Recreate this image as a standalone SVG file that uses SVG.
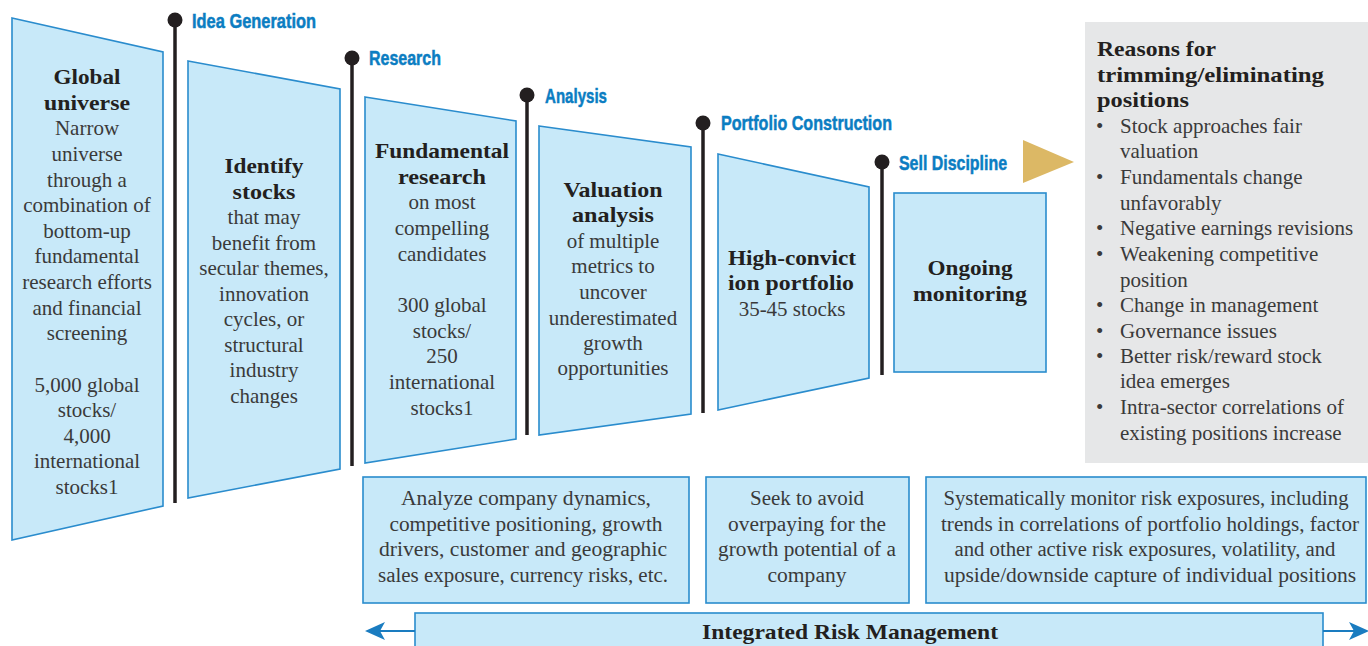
<svg xmlns="http://www.w3.org/2000/svg" width="1368" height="646" viewBox="0 0 1368 646">
<style>
.box{fill:#c8e9f9;stroke:#2a8ccd;stroke-width:1.6}
.t{font-family:"Liberation Serif","Times New Roman",serif;font-size:21px;fill:#3a3a3a;text-anchor:middle}
.b{font-family:"Liberation Serif","Times New Roman",serif;font-size:21px;font-weight:bold;fill:#231f20;text-anchor:middle}
.bl{font-family:"Liberation Serif","Times New Roman",serif;font-size:21px;font-weight:bold;fill:#231f20}
.l{font-family:"Liberation Serif","Times New Roman",serif;font-size:21px;fill:#3a3a3a}
.c{font-family:"Liberation Serif","Times New Roman",serif;font-size:20px;fill:#3a3a3a;text-anchor:middle}
.lab{font-family:"Liberation Sans",Arial,sans-serif;font-size:21px;font-weight:bold;fill:#0b7dc2;stroke:#0b7dc2;stroke-width:0.5}
.stem{stroke:#231f20;stroke-width:3.5}
.dot{fill:#231f20}
.arr{stroke:#1a7cc0;stroke-width:2.2;fill:none}
.head{fill:#1a7cc0}
</style>
<rect width="1368" height="646" fill="#ffffff"/>

<g id="stage-idea-generation">
<line class="stem" x1="175" y1="20" x2="175" y2="503"/>
<circle class="dot" cx="175" cy="20" r="7.5"/>
<text class="lab" x="192" y="28" textLength="124" lengthAdjust="spacingAndGlyphs">Idea Generation</text>
</g>
<g id="stage-research">
<line class="stem" x1="352" y1="58" x2="352" y2="466"/>
<circle class="dot" cx="352" cy="58" r="7.5"/>
<text class="lab" x="369" y="65" textLength="72" lengthAdjust="spacingAndGlyphs">Research</text>
</g>
<g id="stage-analysis">
<line class="stem" x1="527" y1="95" x2="527" y2="435"/>
<circle class="dot" cx="527" cy="95" r="7.5"/>
<text class="lab" x="545" y="103" textLength="62" lengthAdjust="spacingAndGlyphs">Analysis</text>
</g>
<g id="stage-portfolio-construction">
<line class="stem" x1="703" y1="123" x2="703" y2="413"/>
<circle class="dot" cx="703" cy="123" r="7.5"/>
<text class="lab" x="721" y="130" textLength="171" lengthAdjust="spacingAndGlyphs">Portfolio Construction</text>
</g>
<g id="stage-sell-discipline">
<line class="stem" x1="882" y1="162" x2="882" y2="375"/>
<circle class="dot" cx="882" cy="162" r="7.5"/>
<text class="lab" x="899" y="170" textLength="108" lengthAdjust="spacingAndGlyphs">Sell Discipline</text>
</g>

<g id="global-universe">
<polygon class="box" points="12,18 163,52 163,506 12,540"/>
<text class="b" x="87" y="84" textLength="67" lengthAdjust="spacingAndGlyphs">Global</text>
<text class="b" x="87" y="110" textLength="86" lengthAdjust="spacingAndGlyphs">universe</text>
<text class="t" x="87" y="135">Narrow</text>
<text class="t" x="87" y="161">universe</text>
<text class="t" x="87" y="187">through a</text>
<text class="t" x="87" y="212">combination of</text>
<text class="t" x="87" y="238">bottom-up</text>
<text class="t" x="87" y="263">fundamental</text>
<text class="t" x="87" y="289">research efforts</text>
<text class="t" x="87" y="315">and financial</text>
<text class="t" x="87" y="340">screening</text>
<text class="t" x="87" y="392">5,000 global</text>
<text class="t" x="87" y="417">stocks/</text>
<text class="t" x="87" y="443">4,000</text>
<text class="t" x="87" y="468">international</text>
<text class="t" x="87" y="494">stocks1</text>
</g>

<g id="identify-stocks">
<polygon class="box" points="188,61 340,89 340,469 188,498"/>
<text class="b" x="264" y="173" textLength="79" lengthAdjust="spacingAndGlyphs">Identify</text>
<text class="b" x="264" y="199" textLength="63" lengthAdjust="spacingAndGlyphs">stocks</text>
<text class="t" x="264" y="224">that may</text>
<text class="t" x="264" y="250">benefit from</text>
<text class="t" x="264" y="275">secular themes,</text>
<text class="t" x="264" y="301">innovation</text>
<text class="t" x="264" y="326">cycles, or</text>
<text class="t" x="264" y="352">structural</text>
<text class="t" x="264" y="377">industry</text>
<text class="t" x="264" y="403">changes</text>
</g>

<g id="fundamental-research">
<polygon class="box" points="365,97 516,121 516,439 365,463"/>
<text class="b" x="442" y="158" textLength="134" lengthAdjust="spacingAndGlyphs">Fundamental</text>
<text class="b" x="442" y="184" textLength="88" lengthAdjust="spacingAndGlyphs">research</text>
<text class="t" x="442" y="209">on most</text>
<text class="t" x="442" y="235">compelling</text>
<text class="t" x="442" y="261">candidates</text>
<text class="t" x="442" y="312">300 global</text>
<text class="t" x="442" y="338">stocks/</text>
<text class="t" x="442" y="363">250</text>
<text class="t" x="442" y="389">international</text>
<text class="t" x="442" y="415">stocks1</text>
</g>

<g id="valuation-analysis">
<polygon class="box" points="539,126 691,147 691,414 539,435"/>
<text class="b" x="613" y="197" textLength="99" lengthAdjust="spacingAndGlyphs">Valuation</text>
<text class="b" x="613" y="222" textLength="82" lengthAdjust="spacingAndGlyphs">analysis</text>
<text class="t" x="613" y="248">of multiple</text>
<text class="t" x="613" y="273">metrics to</text>
<text class="t" x="613" y="299">uncover</text>
<text class="t" x="613" y="325">underestimated</text>
<text class="t" x="613" y="350">growth</text>
<text class="t" x="613" y="375">opportunities</text>
</g>

<g id="high-conviction-portfolio">
<polygon class="box" points="718,154 869,187 869,378 718,410"/>
<text class="b" x="792" y="265" textLength="128" lengthAdjust="spacingAndGlyphs">High-convict</text>
<text class="b" x="791" y="290" textLength="126" lengthAdjust="spacingAndGlyphs">ion portfolio</text>
<text class="t" x="792" y="316">35-45 stocks</text>
</g>

<g id="ongoing-monitoring">
<rect class="box" x="894" y="193" width="152" height="179"/>
<text class="b" x="970" y="275" textLength="85" lengthAdjust="spacingAndGlyphs">Ongoing</text>
<text class="b" x="970" y="301" textLength="114" lengthAdjust="spacingAndGlyphs">monitoring</text>
</g>

<g id="reasons">
<rect x="1085" y="22" width="283" height="441" fill="#e6e7e8"/>
<text class="bl" x="1097" y="56" textLength="119" lengthAdjust="spacingAndGlyphs">Reasons for</text>
<text class="bl" x="1097" y="82" textLength="227" lengthAdjust="spacingAndGlyphs">trimming/eliminating</text>
<text class="bl" x="1097" y="107" textLength="92" lengthAdjust="spacingAndGlyphs">positions</text>
<g class="l">
<text x="1096" y="133">•</text><text x="1120" y="133">Stock approaches fair</text>
<text x="1120" y="158">valuation</text>
<text x="1096" y="184">•</text><text x="1120" y="184">Fundamentals change</text>
<text x="1120" y="210">unfavorably</text>
<text x="1096" y="235">•</text><text x="1120" y="235">Negative earnings revisions</text>
<text x="1096" y="261">•</text><text x="1120" y="261">Weakening competitive</text>
<text x="1120" y="287">position</text>
<text x="1096" y="312">•</text><text x="1120" y="312">Change in management</text>
<text x="1096" y="338">•</text><text x="1120" y="338">Governance issues</text>
<text x="1096" y="363">•</text><text x="1120" y="363">Better risk/reward stock</text>
<text x="1120" y="388">idea emerges</text>
<text x="1096" y="414">•</text><text x="1120" y="414">Intra-sector correlations of</text>
<text x="1120" y="440">existing positions increase</text>
</g>
</g>

<g id="research-detail">
<rect class="box" x="363" y="477" width="326" height="126"/>
<text class="c" x="526" y="505" textLength="250" lengthAdjust="spacingAndGlyphs">Analyze company dynamics,</text>
<text class="c" x="526" y="531" textLength="273" lengthAdjust="spacingAndGlyphs">competitive positioning, growth</text>
<text class="c" x="523" y="556" textLength="288" lengthAdjust="spacingAndGlyphs">drivers, customer and geographic</text>
<text class="c" x="523" y="582" textLength="290" lengthAdjust="spacingAndGlyphs">sales exposure, currency risks, etc.</text>
</g>

<g id="analysis-detail">
<rect class="box" x="706" y="477" width="203" height="126"/>
<text class="c" x="807" y="505" textLength="114" lengthAdjust="spacingAndGlyphs">Seek to avoid</text>
<text class="c" x="807" y="531" textLength="158" lengthAdjust="spacingAndGlyphs">overpaying for the</text>
<text class="c" x="807" y="556" textLength="178" lengthAdjust="spacingAndGlyphs">growth potential of a</text>
<text class="c" x="807" y="582" textLength="79" lengthAdjust="spacingAndGlyphs">company</text>
</g>

<g id="monitoring-detail">
<rect class="box" x="926" y="477" width="440" height="126"/>
<text class="c" x="1146" y="505" textLength="405" lengthAdjust="spacingAndGlyphs">Systematically monitor risk exposures, including</text>
<text class="c" x="1150" y="531" textLength="418" lengthAdjust="spacingAndGlyphs">trends in correlations of portfolio holdings, factor</text>
<text class="c" x="1145" y="556" textLength="381" lengthAdjust="spacingAndGlyphs">and other active risk exposures, volatility, and</text>
<text class="c" x="1150" y="582" textLength="412" lengthAdjust="spacingAndGlyphs">upside/downside capture of individual positions</text>
</g>

<g id="integrated-risk-management">
<rect class="box" x="415" y="613" width="908" height="45"/>
<text class="b" x="850" y="639" textLength="296" lengthAdjust="spacingAndGlyphs">Integrated Risk Management</text>
</g>

<g id="connectors">
<polygon points="1023,140 1074,162 1023,183" fill="#dcb865"/>
<line class="arr" x1="378" y1="631" x2="415" y2="631"/>
<path class="head" d="M365,631 L385,622 L380,631 L385,640 Z"/>
<line class="arr" x1="1323" y1="631" x2="1356" y2="631"/>
<path class="head" d="M1369,631 L1349,622 L1354,631 L1349,640 Z"/>
</g>
</svg>
